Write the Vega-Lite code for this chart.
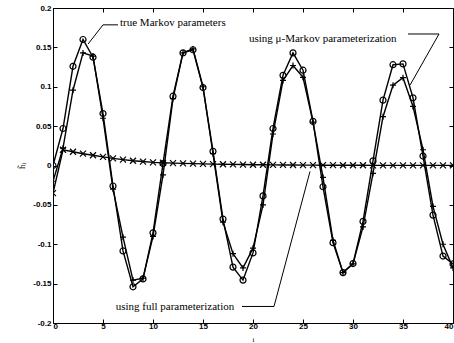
{
  "$schema": "https://vega.github.io/schema/vega-lite/v6.json",
  "width": 400,
  "height": 315,
  "autosize": {"type": "none"},
  "padding": {"left": 53, "top": 8, "right": 1, "bottom": 20},
  "background": "white",
  "config": {
    "view": {"stroke": "black", "strokeWidth": 1},
    "axis": {"grid": false, "domainColor": "black", "tickColor": "black", "labelColor": "black", "labelFont": "Liberation Sans", "labelFontWeight": "bold", "labelFontSize": 8, "titleColor": "black"}
  },
  "datasets": {
    "series": [
      {"i": 0, "h": 0.0, "s": "true"}, {"i": 1, "h": 0.047, "s": "true"}, {"i": 2, "h": 0.126, "s": "true"}, {"i": 3, "h": 0.16, "s": "true"}, {"i": 4, "h": 0.1375, "s": "true"}, {"i": 5, "h": 0.066, "s": "true"}, {"i": 6, "h": -0.026, "s": "true"}, {"i": 7, "h": -0.1085, "s": "true"}, {"i": 8, "h": -0.154, "s": "true"}, {"i": 9, "h": -0.144, "s": "true"}, {"i": 10, "h": -0.0855, "s": "true"}, {"i": 11, "h": 0.0025, "s": "true"}, {"i": 12, "h": 0.088, "s": "true"}, {"i": 13, "h": 0.143, "s": "true"}, {"i": 14, "h": 0.147, "s": "true"}, {"i": 15, "h": 0.099, "s": "true"}, {"i": 16, "h": 0.018, "s": "true"}, {"i": 17, "h": -0.068, "s": "true"}, {"i": 18, "h": -0.129, "s": "true"}, {"i": 19, "h": -0.1455, "s": "true"}, {"i": 20, "h": -0.111, "s": "true"}, {"i": 21, "h": -0.0386, "s": "true"}, {"i": 22, "h": 0.047, "s": "true"}, {"i": 23, "h": 0.1145, "s": "true"}, {"i": 24, "h": 0.143, "s": "true"}, {"i": 25, "h": 0.121, "s": "true"}, {"i": 26, "h": 0.056, "s": "true"}, {"i": 27, "h": -0.027, "s": "true"}, {"i": 28, "h": -0.098, "s": "true"}, {"i": 29, "h": -0.136, "s": "true"}, {"i": 30, "h": -0.1245, "s": "true"}, {"i": 31, "h": -0.071, "s": "true"}, {"i": 32, "h": 0.006, "s": "true"}, {"i": 33, "h": 0.083, "s": "true"}, {"i": 34, "h": 0.128, "s": "true"}, {"i": 35, "h": 0.129, "s": "true"}, {"i": 36, "h": 0.086, "s": "true"}, {"i": 37, "h": 0.012, "s": "true"}, {"i": 38, "h": -0.063, "s": "true"}, {"i": 39, "h": -0.115, "s": "true"}, {"i": 40, "h": -0.125, "s": "true"},
      {"i": 0, "h": -0.02, "s": "mu"}, {"i": 1, "h": 0.022, "s": "mu"}, {"i": 2, "h": 0.0956, "s": "mu"}, {"i": 3, "h": 0.143, "s": "mu"}, {"i": 4, "h": 0.139, "s": "mu"}, {"i": 5, "h": 0.06, "s": "mu"}, {"i": 6, "h": -0.03, "s": "mu"}, {"i": 7, "h": -0.091, "s": "mu"}, {"i": 8, "h": -0.1455, "s": "mu"}, {"i": 9, "h": -0.143, "s": "mu"}, {"i": 10, "h": -0.09, "s": "mu"}, {"i": 11, "h": -0.012, "s": "mu"}, {"i": 12, "h": 0.085, "s": "mu"}, {"i": 13, "h": 0.143, "s": "mu"}, {"i": 14, "h": 0.148, "s": "mu"}, {"i": 15, "h": 0.1, "s": "mu"}, {"i": 16, "h": 0.015, "s": "mu"}, {"i": 17, "h": -0.072, "s": "mu"}, {"i": 18, "h": -0.112, "s": "mu"}, {"i": 19, "h": -0.13, "s": "mu"}, {"i": 20, "h": -0.105, "s": "mu"}, {"i": 21, "h": -0.05, "s": "mu"}, {"i": 22, "h": 0.04, "s": "mu"}, {"i": 23, "h": 0.108, "s": "mu"}, {"i": 24, "h": 0.127, "s": "mu"}, {"i": 25, "h": 0.112, "s": "mu"}, {"i": 26, "h": 0.055, "s": "mu"}, {"i": 27, "h": -0.015, "s": "mu"}, {"i": 28, "h": -0.095, "s": "mu"}, {"i": 29, "h": -0.136, "s": "mu"}, {"i": 30, "h": -0.125, "s": "mu"}, {"i": 31, "h": -0.078, "s": "mu"}, {"i": 32, "h": -0.01, "s": "mu"}, {"i": 33, "h": 0.062, "s": "mu"}, {"i": 34, "h": 0.102, "s": "mu"}, {"i": 35, "h": 0.1115, "s": "mu"}, {"i": 36, "h": 0.075, "s": "mu"}, {"i": 37, "h": 0.02, "s": "mu"}, {"i": 38, "h": -0.052, "s": "mu"}, {"i": 39, "h": -0.1, "s": "mu"}, {"i": 40, "h": -0.13, "s": "mu"},
      {"i": 0, "h": -0.035, "s": "full"}, {"i": 1, "h": 0.02, "s": "full"}, {"i": 2, "h": 0.0175, "s": "full"}, {"i": 3, "h": 0.015, "s": "full"}, {"i": 4, "h": 0.013, "s": "full"}, {"i": 5, "h": 0.011, "s": "full"}, {"i": 6, "h": 0.009, "s": "full"}, {"i": 7, "h": 0.0075, "s": "full"}, {"i": 8, "h": 0.006, "s": "full"}, {"i": 9, "h": 0.005, "s": "full"}, {"i": 10, "h": 0.004, "s": "full"}, {"i": 11, "h": 0.0035, "s": "full"}, {"i": 12, "h": 0.003, "s": "full"}, {"i": 13, "h": 0.0027, "s": "full"}, {"i": 14, "h": 0.0024, "s": "full"}, {"i": 15, "h": 0.002, "s": "full"}, {"i": 16, "h": 0.0018, "s": "full"}, {"i": 17, "h": 0.0016, "s": "full"}, {"i": 18, "h": 0.0014, "s": "full"}, {"i": 19, "h": 0.0012, "s": "full"}, {"i": 20, "h": 0.001, "s": "full"}, {"i": 21, "h": 0.0009, "s": "full"}, {"i": 22, "h": 0.0008, "s": "full"}, {"i": 23, "h": 0.0007, "s": "full"}, {"i": 24, "h": 0.0006, "s": "full"}, {"i": 25, "h": 0.0005, "s": "full"}, {"i": 26, "h": 0.0005, "s": "full"}, {"i": 27, "h": 0.0004, "s": "full"}, {"i": 28, "h": 0.0004, "s": "full"}, {"i": 29, "h": 0.0003, "s": "full"}, {"i": 30, "h": 0.0003, "s": "full"}, {"i": 31, "h": 0.0003, "s": "full"}, {"i": 32, "h": 0.0002, "s": "full"}, {"i": 33, "h": 0.0002, "s": "full"}, {"i": 34, "h": 0.0002, "s": "full"}, {"i": 35, "h": 0.0002, "s": "full"}, {"i": 36, "h": 0.0001, "s": "full"}, {"i": 37, "h": 0.0001, "s": "full"}, {"i": 38, "h": 0.0001, "s": "full"}, {"i": 39, "h": 0.0001, "s": "full"}, {"i": 40, "h": 0.0001, "s": "full"}
    ],
    "labels": [
      {"x": 6.7, "y": 0.181, "t": "true Markov parameters"},
      {"x": 19.6, "y": 0.161, "t": "using μ-Markov parameterization"},
      {"x": 6.27, "y": -0.18, "t": "using full parameterization"}
    ],
    "segs": [
      {"x": 5.0, "y": 0.1786, "x2": 6.5, "y2": 0.1786},
      {"x": 5.0, "y": 0.1786, "x2": 3.51, "y2": 0.1543},
      {"x": 35.5, "y": 0.167, "x2": 38.6, "y2": 0.167},
      {"x": 38.6, "y": 0.167, "x2": 35.7, "y2": 0.102},
      {"x": 18.9, "y": -0.179, "x2": 22.1, "y2": -0.179},
      {"x": 22.1, "y": -0.179, "x2": 25.7, "y2": -0.0075}
    ]
  },
  "layer": [
    {
      "data": {"name": "series"},
      "mark": {"type": "line", "color": "black", "strokeWidth": 1.4, "clip": true},
      "encoding": {
        "x": {"field": "i", "type": "quantitative", "scale": {"domain": [0, 40], "nice": false, "zero": false},
              "axis": {"orient": "bottom", "values": [0, 5, 10, 15, 20, 25, 30, 35, 40], "tickSize": -4, "labelPadding": 3, "title": "i", "titleFont": "Liberation Serif", "titleFontSize": 7, "titleFontWeight": "normal", "titleBaseline": "top", "titleY": 12.5}},
        "y": {"field": "h", "type": "quantitative", "scale": {"domain": [-0.2, 0.2], "nice": false, "zero": false},
              "axis": {"orient": "left", "values": [-0.2, -0.15, -0.1, -0.05, 0, 0.05, 0.1, 0.15, 0.2], "tickSize": -4, "labelPadding": 6, "labelExpr": "replace(format(datum.value, '~g'), '−', '-')", "title": "h̃ᵢ", "titleFont": "Liberation Serif", "titleFontSize": 9, "titleFontWeight": "normal", "titlePadding": 6}},
        "detail": {"field": "s"}
      }
    },
    {
      "data": {"name": "series"},
      "mark": {"type": "point", "filled": false, "color": "black", "strokeWidth": 1.2, "opacity": 1, "clip": true},
      "encoding": {
        "x": {"field": "i", "type": "quantitative", "axis": null},
        "y": {"field": "h", "type": "quantitative", "axis": null},
        "shape": {"field": "s", "type": "nominal", "scale": {"domain": ["true", "mu", "full"], "range": ["circle", "M-1,0L1,0M0,-1L0,1", "M-1,-1L1,1M-1,1L1,-1"]}, "legend": null},
        "size": {"field": "s", "type": "nominal", "scale": {"domain": ["true", "mu", "full"], "range": [36, 36, 20]}, "legend": null}
      }
    },
    {
      "data": {"name": "segs"},
      "mark": {"type": "rule", "color": "black", "strokeWidth": 1},
      "encoding": {
        "x": {"field": "x", "type": "quantitative", "axis": null},
        "y": {"field": "y", "type": "quantitative", "axis": null},
        "x2": {"field": "x2"},
        "y2": {"field": "y2"}
      }
    },
    {
      "data": {"name": "labels"},
      "mark": {"type": "text", "align": "left", "baseline": "middle", "font": "Liberation Serif", "fontSize": 11, "color": "black"},
      "encoding": {
        "x": {"field": "x", "type": "quantitative", "axis": null},
        "y": {"field": "y", "type": "quantitative", "axis": null},
        "text": {"field": "t"}
      }
    },
    {
      "data": {"name": "labels"},
      "mark": {"type": "point", "opacity": 0},
      "encoding": {
        "x": {"field": "x", "type": "quantitative", "axis": {"orient": "top", "values": [0, 5, 10, 15, 20, 25, 30, 35, 40], "tickSize": -4, "labels": false, "title": null, "domain": false}},
        "y": {"field": "y", "type": "quantitative", "axis": {"orient": "right", "values": [-0.2, -0.15, -0.1, -0.05, 0, 0.05, 0.1, 0.15, 0.2], "tickSize": -4, "labels": false, "title": null, "domain": false}}
      }
    }
  ],
  "resolve": {"axis": {"x": "independent", "y": "independent"}}
}
